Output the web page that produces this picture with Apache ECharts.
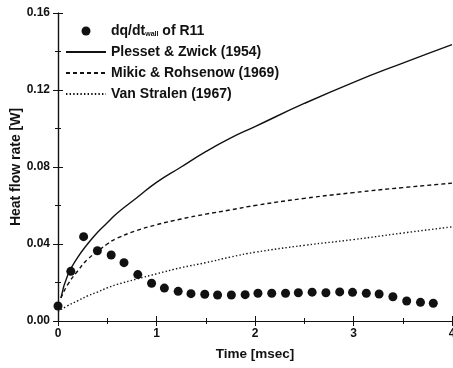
<!DOCTYPE html>
<html>
<head>
<meta charset="utf-8">
<script src="https://cdn.jsdelivr.net/npm/echarts@6/dist/echarts.min.js"></script>
<style>
  html, body { margin: 0; padding: 0; background: #fff; }
  #chart { width: 453px; height: 368px; }
</style>
</head>
<body>
<div id="chart"></div>
<script>
  // measured points, dq/dt_wall of R11
  const dotTime = [0, 0.13, 0.26, 0.40, 0.54, 0.67, 0.81, 0.95, 1.08, 1.22,
    1.35, 1.49, 1.62, 1.76, 1.90, 2.03, 2.17, 2.31, 2.44, 2.58,
    2.72, 2.86, 2.99, 3.13, 3.26, 3.40, 3.54, 3.68, 3.81];
  const dotValue = [0.0078, 0.0258, 0.0438, 0.0365, 0.0343, 0.0303, 0.0241, 0.0196, 0.0171, 0.0154,
    0.0142, 0.0139, 0.0135, 0.0135, 0.0137, 0.0144, 0.0144, 0.0144, 0.0147, 0.0150,
    0.0147, 0.0151, 0.0149, 0.0144, 0.0140, 0.0126, 0.0104, 0.0097, 0.0092];

  // model curves
  const plessetTime = [0.03, 0.1, 0.2, 0.3, 0.4, 0.5, 0.6, 0.8, 1.0, 1.25, 1.5, 1.75, 2.0, 2.5, 3.0, 3.5, 4.0];
  const plessetValue = [0.012, 0.024, 0.033, 0.040, 0.046, 0.051, 0.056, 0.064, 0.072, 0.080, 0.088, 0.095, 0.101, 0.113, 0.124, 0.134, 0.1436];

  const mikicTime = [0.03, 0.1, 0.2, 0.3, 0.4, 0.5, 0.6, 0.8, 1.0, 1.25, 1.5, 1.75, 2.0, 2.5, 3.0, 3.5, 4.0];
  const mikicValue = [0.012, 0.019, 0.026, 0.032, 0.036, 0.040, 0.043, 0.047, 0.050, 0.053, 0.0555, 0.0577, 0.060, 0.0637, 0.0667, 0.0693, 0.0716];

  const stralenTime = [0, 0.1, 0.2, 0.3, 0.4, 0.5, 0.6, 0.8, 1.0, 1.25, 1.5, 1.75, 2.0, 2.5, 3.0, 3.5, 4.0];
  const stralenValue = [0.005, 0.008, 0.0105, 0.013, 0.015, 0.0172, 0.019, 0.0218, 0.0245, 0.0277, 0.0303, 0.0332, 0.0357, 0.0393, 0.0423, 0.0457, 0.0489];

  const yTicks = [0, 0.04, 0.08, 0.12, 0.16];

  const pairs = (xs, ys) => xs.map((x, i) => [x, ys[i]]);

  const font = 'Liberation Sans, Arial, sans-serif';
  const ink = '#111';

  const chart = echarts.init(document.getElementById('chart'), null, { renderer: 'canvas' });

  const baseAxis = {
    axisLine: { show: true, lineStyle: { color: ink, width: 1.2 } },
    axisTick: { show: true, inside: true, length: 5, lineStyle: { color: ink, width: 1 } },
    minorTick: { show: true, splitNumber: 2, length: 3, lineStyle: { color: ink, width: 1 } },
    splitLine: { show: false }
  };

  // hide the marker that line series put in the middle of their legend line
  const lineEntry = (name) => ({ name, itemStyle: { opacity: 0 } });

  chart.setOption({
    animation: false,
    backgroundColor: '#fff',
    grid: { left: 58, right: 1, top: 13, bottom: 47, outerBoundsMode: 'none' },
    legend: {
      left: 65,
      top: 24,
      padding: 0,
      orient: 'vertical',
      itemWidth: 40,
      itemHeight: 9,
      itemGap: 7,
      data: [
        { name: 'dotR11', icon: 'circle', itemStyle: { color: ink, opacity: 1 } },
        lineEntry('Plesset & Zwick (1954)'),
        lineEntry('Mikic & Rohsenow (1969)'),
        lineEntry('Van Stralen (1967)')
      ],
      formatter: (name) => name === 'dotR11' ? 'dq/dt{sub|wall} of R11' : name,
      textStyle: {
        color: ink,
        fontFamily: font,
        fontSize: 14,
        fontWeight: 'bold',
        rich: {
          sub: { fontSize: 7, fontFamily: font, fontWeight: 'bold', color: ink, verticalAlign: 'bottom', padding: [7, 0, 0, 0] }
        }
      }
    },
    xAxis: [
      Object.assign({}, baseAxis, {
        type: 'value',
        min: 0,
        max: 4,
        interval: 1,
        name: 'Time [msec]',
        nameLocation: 'middle',
        nameGap: 26,
        nameMoveOverlap: false,
        nameTextStyle: { color: ink, fontFamily: font, fontSize: 13.5, fontWeight: 'bold' },
        axisLabel: { color: ink, fontFamily: font, fontSize: 12, fontWeight: 'bold', margin: 7 }
      }),
      Object.assign({}, baseAxis, {
        type: 'value',
        position: 'top',
        min: 0,
        max: 4,
        interval: 1,
        axisLabel: { show: false }
      })
    ],
    yAxis: [
      Object.assign({}, baseAxis, {
        type: 'value',
        min: 0,
        max: 0.16,
        interval: 0.04,
        name: 'Heat flow rate [W]',
        nameLocation: 'middle',
        nameGap: 35,
        nameMoveOverlap: false,
        nameTextStyle: { color: ink, fontFamily: font, fontSize: 14, fontWeight: 'bold' },
        axisLabel: {
          color: ink,
          fontFamily: font,
          fontSize: 12,
          fontWeight: 'bold',
          margin: 8,
          formatter: (v) => yTicks.some((t) => Math.abs(t - v) < 1e-9) ? v.toFixed(2) : ''
        }
      }),
      Object.assign({}, baseAxis, {
        type: 'value',
        position: 'right',
        min: 0,
        max: 0.16,
        interval: 0.04,
        axisLabel: { show: false }
      })
    ],
    series: [
      {
        name: 'Plesset & Zwick (1954)',
        type: 'line',
        smooth: true,
        symbol: 'none',
        data: pairs(plessetTime, plessetValue),
        lineStyle: { color: ink, width: 1.4, type: 'solid' },
        itemStyle: { color: ink },
        z: 2
      },
      {
        name: 'Mikic & Rohsenow (1969)',
        type: 'line',
        smooth: true,
        symbol: 'none',
        data: pairs(mikicTime, mikicValue),
        lineStyle: { color: ink, width: 1.4, type: [4, 3] },
        itemStyle: { color: ink },
        z: 2
      },
      {
        name: 'Van Stralen (1967)',
        type: 'line',
        smooth: true,
        symbol: 'none',
        data: pairs(stralenTime, stralenValue),
        lineStyle: { color: ink, width: 1.4, type: [1.4, 2.2] },
        itemStyle: { color: ink },
        z: 2
      },
      {
        name: 'dotR11',
        type: 'scatter',
        symbol: 'circle',
        symbolSize: 9,
        data: pairs(dotTime, dotValue),
        itemStyle: { color: ink, opacity: 1 },
        z: 3
      }
    ]
  });
</script>
</body>
</html>
